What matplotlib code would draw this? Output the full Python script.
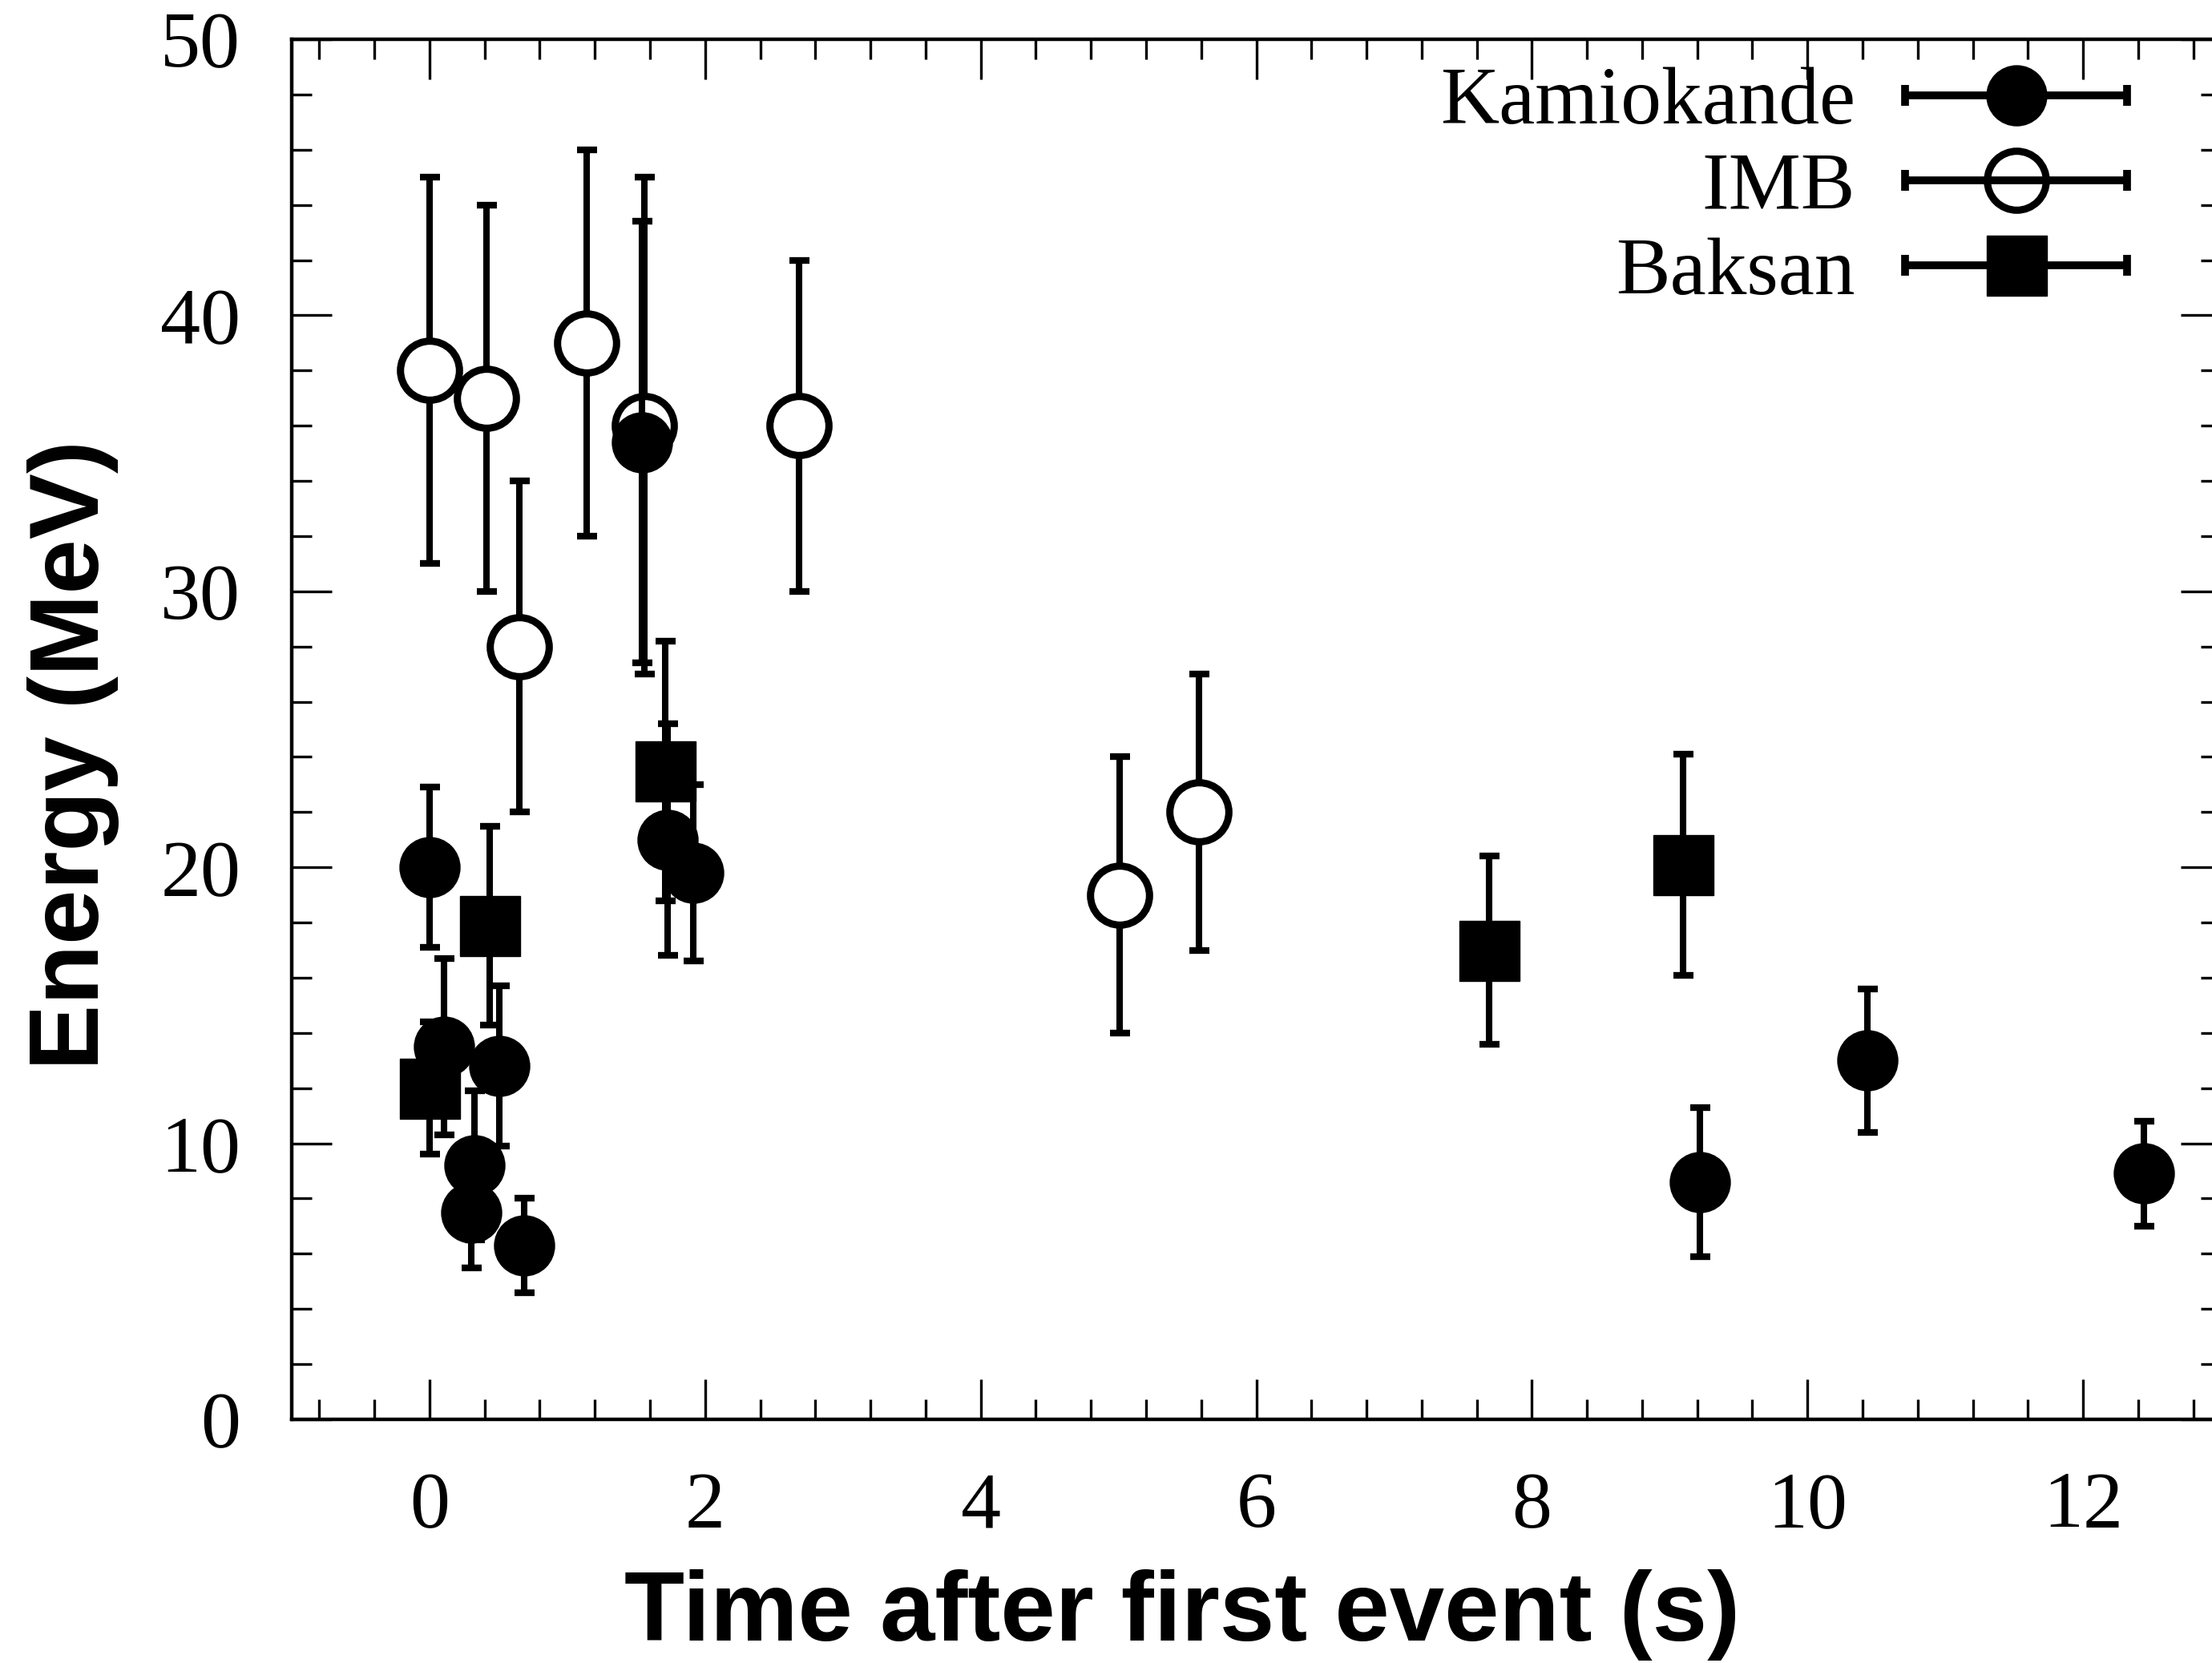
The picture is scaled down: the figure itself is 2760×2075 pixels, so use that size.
import numpy as np
import matplotlib
matplotlib.use('Agg')
import matplotlib.pyplot as plt
from matplotlib.legend_handler import HandlerErrorbar
from matplotlib.container import ErrorbarContainer
from matplotlib.ticker import MultipleLocator

# SN1987A neutrino events
kam_t = [0.000, 0.107, 0.303, 0.324, 0.507, 0.686, 1.541, 1.728, 1.915, 9.219, 10.433, 12.439]
kam_e = [20.0, 13.5, 7.5, 9.2, 12.8, 6.3, 35.4, 21.0, 19.8, 8.6, 13.0, 8.9]
kam_err = [2.9, 3.2, 2.0, 2.7, 2.9, 1.7, 8.0, 4.2, 3.2, 2.7, 2.6, 1.9]

imb_t = [0.000, 0.412, 0.650, 1.141, 1.562, 2.684, 5.010, 5.582]
imb_e = [38, 37, 28, 39, 36, 36, 19, 22]
imb_err = [7, 7, 6, 7, 9, 6, 5, 5]

bak_t = [0.000, 0.435, 1.710, 7.687, 9.099]
bak_e = [12.0, 17.9, 23.5, 17.0, 20.1]
bak_err = [2.4, 3.6, 4.7, 3.4, 4.0]

labels = ['Kamiokande', 'IMB', 'Baksan']

plt.rcParams['font.family'] = 'Liberation Serif'

fig = plt.figure(figsize=(27.6, 20.75), dpi=100)
ax = fig.add_axes([364 / 2760, 304 / 2075, 2407 / 2760, 1722 / 2075])

CAPTHICK = 6.0


def fix_caps(cont, width=CAPTHICK):
    # an explicit mew also hits the caps, put the cap thickness back
    for c in cont[1]:
        c.set_markeredgewidth(width)
    return cont


bar = dict(ecolor='black', elinewidth=5.8, capsize=9, capthick=CAPTHICK,
           linestyle='none')
style_imb = dict(fmt='o', mfc='white', mec='black', mew=6.5, ms=53)
style_kam = dict(fmt='o', color='black', mec='black', ms=54)
style_bak = dict(fmt='s', color='black', mec='black', ms=54)

fix_caps(ax.errorbar(imb_t, imb_e, yerr=imb_err, zorder=2, **style_imb, **bar))
ax.errorbar(kam_t, kam_e, yerr=kam_err, zorder=3, **style_kam, **bar)
ax.errorbar(bak_t, bak_e, yerr=bak_err, zorder=4, **style_bak, **bar)

# legend proxies: the legend shows horizontal bars with caps
leg_bar = dict(ecolor='black', elinewidth=7, capsize=9.4, capthick=7,
               linestyle='none')
p_kam = ax.errorbar([np.nan], [np.nan], xerr=[1], **style_kam, **leg_bar)
p_imb = fix_caps(ax.errorbar([np.nan], [np.nan], xerr=[1],
                             **dict(style_imb, mfc='none'), **leg_bar), 7)
p_bak = ax.errorbar([np.nan], [np.nan], xerr=[1], **style_bak, **leg_bar)

ax.set_xlim(-1, 13)
ax.set_ylim(0, 50)

ax.xaxis.set_major_locator(MultipleLocator(2))
ax.xaxis.set_minor_locator(MultipleLocator(0.4))
ax.yaxis.set_major_locator(MultipleLocator(10))
ax.yaxis.set_minor_locator(MultipleLocator(2))
ax.tick_params(which='both', direction='in', top=True, right=True,
               width=2.4, labelsize=72)
ax.tick_params(which='major', length=36)
ax.tick_params(which='minor', length=18)
ax.tick_params(axis='x', pad=47)
ax.tick_params(axis='y', pad=46)
for s in ax.spines.values():
    s.set_linewidth(3.2)

ax.set_xlabel('Time after first event (s)', fontsize=88.6, fontweight='bold',
              family='Liberation Sans')
ax.xaxis.label.set_va('baseline')
ax.xaxis.set_label_coords(0.4616, -0.1603)
ax.set_ylabel('Energy (MeV)', fontsize=88.6, fontweight='bold',
              family='Liberation Sans')
ax.yaxis.label.set_va('baseline')
ax.yaxis.set_label_coords(-0.100, 0.4814)

ax.legend([p_kam, p_imb, p_bak], labels, loc='upper right',
          bbox_to_anchor=(0.952, 0.980), frameon=False, markerfirst=False,
          numpoints=1, handlelength=2.76, handletextpad=0.6,
          labelspacing=0.13, borderpad=0, borderaxespad=0,
          prop={'family': 'Liberation Serif', 'size': 73},
          handler_map={ErrorbarContainer: HandlerErrorbar(xerr_size=1.37)})

fig.savefig('out.png', dpi=100)
